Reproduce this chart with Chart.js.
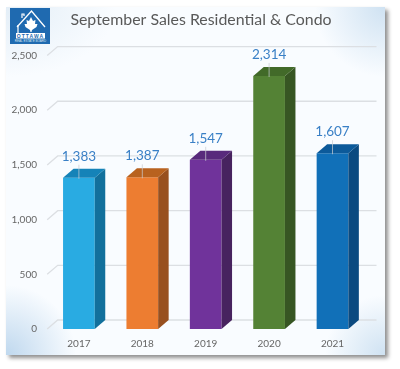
<!DOCTYPE html>
<html><head><meta charset="utf-8">
<style>
html,body{margin:0;padding:0;background:#fff;width:400px;height:369px;overflow:hidden}
#panel{position:absolute;left:6px;top:7px;width:379px;height:348px;
 background:
 radial-gradient(ellipse 70px 70px at 100% 0%,#cfe2f2 0%,rgba(207,226,242,0) 100%),
 radial-gradient(ellipse 60px 60px at 100% 100%,#cfe2f2 0%,rgba(207,226,242,0) 100%),
 radial-gradient(ellipse 70px 70px at 0% 100%,#bfd8ee 0%,rgba(191,216,238,0) 100%),
 radial-gradient(ellipse 110px 70px at 0% 0%,#e3eef7 0%,rgba(227,238,247,0) 100%),
 #f9fcff;
 box-shadow:3px 3px 4px #8f8f8f;}
#wrap{position:absolute;left:0;top:0;width:400px;height:369px;filter:blur(.35px)}
canvas{display:block}
#logo{position:absolute;left:10px;top:8px;width:40px;height:36px}
</style></head><body>
<div id="panel"></div>
<div id="wrap"><canvas id="c" width="400" height="369"></canvas>
<svg id="logo" viewBox="0 0 40 36">
<rect width="40" height="36" fill="#1f6ab0"/>
<path d="M7 19 L21.5 3 L35 19" fill="none" stroke="#fff" stroke-width="1.3"/>
<path d="M8 25 V17 M12 10 V6 H14 V8" fill="none" stroke="#fff" stroke-width="1.2"/>
<path d="M21 9 L23 13 L25.5 12 L25 16 L27.5 16 L26.5 19 L22 22 L21.5 24 L20.5 24 L20 22 L15.5 19 L14.5 16 L17 16 L16.5 12 L19 13Z" fill="#fff"/>
<rect x="6" y="25" width="29" height="5.5" fill="#fff"/>
<text x="20.5" y="29.6" font-family="Liberation Sans" font-size="5" font-weight="700" letter-spacing="1.1" text-anchor="middle" fill="#1f6ab0">OTTAWA</text>
<text x="20.5" y="34" font-family="Liberation Sans" font-size="3" text-anchor="middle" fill="#d8e8f5">REAL ESTATE BOARD</text>
</svg></div>
<script src="https://cdn.jsdelivr.net/npm/chart.js@4"></script>
<script>
const chartTitle = 'September Sales Residential & Condo';
const categories = ['2017','2018','2019','2020','2021'];
const sales = [1383,1387,1547,2314,1607];
const yTicks = [0,500,1000,1500,2000,2500];
const frontColors = ['#29abe2','#ed7d31','#70339b','#548235','#1170b8'];
const sideColors = ['#12709c','#98501f','#47235f','#375623','#0b4a80'];
const topColors = ['#1583b8','#b8621f','#582a7c','#426a29','#0c5a9a'];
const DX = 10.5, DY = 9;

const cube = {
 id:'cube',
 afterLayout(ch){
  if(ch.titleBlock){ch.titleBlock.left=0;ch.titleBlock.right=402;}
 },
 beforeDatasetsDraw(ch){
  const {ctx,scales:{y},chartArea:a}=ch;
  ctx.save();
  ctx.strokeStyle='#dcdfe3';ctx.lineWidth=1.3;
  yTicks.forEach(v=>{
   const p=y.getPixelForValue(v);
   ctx.beginPath();ctx.moveTo(a.left,p);ctx.lineTo(a.left+DX,p-DY);ctx.lineTo(a.right+DX+1.8,p-DY);ctx.stroke();
  });
  ctx.restore();
 },
 afterDatasetsDraw(ch){
  const {ctx}=ch;
  const bars=ch.getDatasetMeta(0).data;
  ctx.save();
  bars.forEach((b,i)=>{
   const l=b.x-b.width/2,r=b.x+b.width/2,t=b.y,bt=b.base;
   ctx.fillStyle=sideColors[i];
   ctx.beginPath();ctx.moveTo(r,t);ctx.lineTo(r+DX,t-DY);ctx.lineTo(r+DX,bt-DY);ctx.lineTo(r,bt);ctx.closePath();ctx.fill();
   ctx.fillStyle=topColors[i];
   ctx.beginPath();ctx.moveTo(l,t);ctx.lineTo(l+DX,t-DY);ctx.lineTo(r+DX,t-DY);ctx.lineTo(r,t);ctx.closePath();ctx.fill();
   ctx.strokeStyle='rgba(200,205,210,.9)';ctx.lineWidth=.8;
   ctx.beginPath();ctx.moveTo(b.x,t+1);ctx.lineTo(b.x,t-13);ctx.stroke();
   ctx.fillStyle='#3a80c6';ctx.font='13.5px Lato';ctx.textAlign='center';ctx.textBaseline='middle';
   ctx.fillText(sales[i].toLocaleString('en-US'),b.x,t-21.5);
  });
  ctx.restore();
 }
};

new Chart(document.getElementById('c'),{
 type:'bar',
 data:{labels:categories,datasets:[{data:sales,backgroundColor:frontColors,barPercentage:.5,categoryPercentage:1}]},
 options:{
  responsive:false,animation:false,
  layout:{padding:{left:0,right:35.8,top:0,bottom:18}},
  plugins:{legend:{display:false},tooltip:{enabled:false},
   title:{display:true,text:chartTitle,color:'#595959',font:{family:'Lato',size:15.9,weight:'normal'},padding:{top:10,bottom:26.5}}},
  scales:{
   x:{grid:{display:false},border:{display:false},
      ticks:{color:'#666',font:{family:'Lato',size:10},padding:1,maxRotation:0}},
   y:{min:0,max:2500,grid:{display:false},border:{display:false},
      afterFit(s){s.width=47.2;},
      afterBuildTicks(s){s.ticks=yTicks.map(v=>({value:v}));},
      ticks:{color:'#666',font:{family:'Lato',size:10},padding:2.2,callback:v=>v.toLocaleString('en-US')}}
  }
 },
 plugins:[cube]
});
</script></body></html>
